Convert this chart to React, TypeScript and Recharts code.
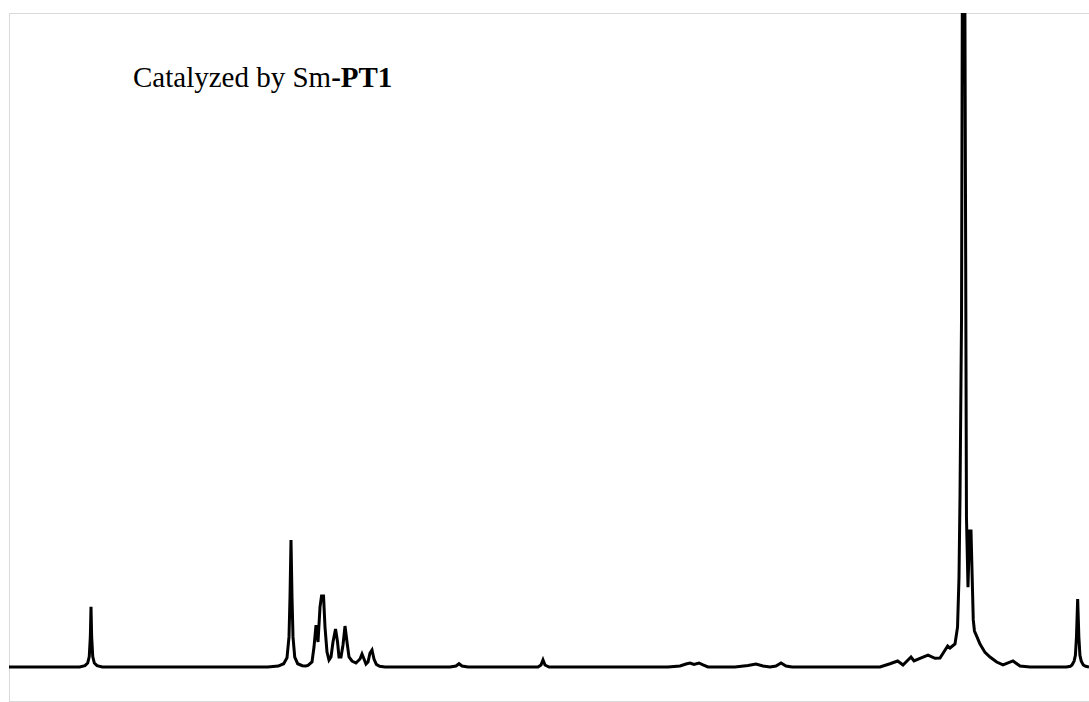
import { LineChart, Line, XAxis, YAxis } from 'recharts';

// 1H NMR trace, [shift (ppm), intensity (% of window)]
const AROMATIC: [number, number][] = [
  [8.0, 0], [7.47, 0], [7.43, 0.2], [7.41, 0.6], [7.398, 1.6], [7.39, 4.6],
  [7.385, 9.2], [7.38, 4.6], [7.372, 1.6], [7.36, 0.6], [7.34, 0.2], [7.3, 0],
];

const VINYL: [number, number][] = [
  [6.06, 0], [5.98, 0.15], [5.94, 0.5], [5.915, 1.4], [5.9, 4.6], [5.8925, 10.7],
  [5.885, 19.4], [5.8775, 10.7], [5.87, 4.6], [5.857, 1.5], [5.835, 0.5],
  [5.8, 0.2], [5.775, 0.15],
];

const MULTIPLET: [number, number][] = [
  [5.7575, 0.25], [5.7275, 0.76], [5.7125, 3.05], [5.6975, 6.41], [5.6825, 3.82],
  [5.6675, 9.16], [5.656, 10.84], [5.641, 10.84], [5.63, 6.1], [5.615, 2.29],
  [5.6, 1.07], [5.585, 1.53], [5.57, 3.82], [5.551, 5.8], [5.536, 3.82],
  [5.525, 1.53], [5.51, 1.53], [5.495, 3.36], [5.48, 6.26], [5.465, 3.82],
  [5.45, 1.53], [5.4275, 0.92], [5.3975, 0.61], [5.3675, 1.22], [5.3525, 1.98],
  [5.3375, 1.22], [5.3225, 0.46], [5.3075, 0.76], [5.2925, 2.14], [5.2775, 2.6],
  [5.2625, 1.22], [5.245, 0.4], [5.22, 0.12], [5.18, 0],
];

const SMALL_BUMPS: [number, number][] = [
  [4.6925, 0], [4.6475, 0.15], [4.625, 0.5], [4.6025, 0.15], [4.5575, 0],
  [4.0325, 0], [4.01, 0.31], [3.995, 1.1], [3.98, 0.31], [3.95, 0],
  [3.0575, 0], [2.9675, 0.15], [2.9225, 0.46], [2.8925, 0.61], [2.8625, 0.38],
  [2.825, 0.61], [2.795, 0.31], [2.7575, 0],
  [2.555, 0], [2.4575, 0.23], [2.3975, 0.46], [2.345, 0.15], [2.2925, 0],
  [2.2475, 0.15], [2.21, 0.61], [2.1725, 0.15], [2.1275, 0],
];

const ALIPHATIC: [number, number][] = [
  [1.4675, 0], [1.3925, 0.5], [1.335, 0.92], [1.295, 0.31], [1.235, 1.53],
  [1.2125, 0.92], [1.1675, 1.33], [1.1075, 1.83], [1.055, 1.33], [1.0175, 1.37],
  [0.96, 3.2], [0.9425, 2.9], [0.905, 3.51], [0.886, 6.1], [0.875, 13.7],
  [0.8675, 26], [0.856, 53.4], [0.843, 160], [0.8395, 160], [0.819, 22.9],
  [0.8075, 12.2], [0.796, 20.8], [0.785, 20.8], [0.768, 7.2], [0.759, 5.5],
  [0.7425, 4.73], [0.7175, 3.51], [0.68, 2.23], [0.6425, 1.53], [0.5925, 0.76],
  [0.545, 0.31], [0.47, 0.92], [0.4175, 0.15], [0.3425, 0],
];

const TMS: [number, number][] = [
  [0.07, 0], [0.04, 0.1], [0.0275, 0.31], [0.012, 0.9], [0.002, 1.8],
  [-0.006, 4.58], [-0.015, 10.4], [-0.024, 4.58], [-0.032, 1.8], [-0.042, 0.9],
  [-0.057, 0.31], [-0.075, 0.1], [-0.1, 0],
];

const data = [...AROMATIC, ...VINYL, ...MULTIPLET, ...SMALL_BUMPS, ...ALIPHATIC, ...TMS].map(
  ([x, y]) => ({ x, y }),
);

export default function App() {
  return (
    <div
      style={{
        position: 'fixed',
        left: 0,
        top: 0,
        width: 1089,
        height: 702,
        overflow: 'hidden',
        background: '#fff',
      }}
    >
      <div
        style={{
          position: 'absolute',
          left: 9,
          top: 13,
          width: 1090,
          height: 689,
          border: '1px solid #d9d9d9',
          boxSizing: 'border-box',
        }}
      />
      <div style={{ position: 'absolute', left: 9, top: 13 }}>
        <LineChart
          width={1080}
          height={688}
          data={data}
          margin={{ top: 0, right: 0, bottom: 0, left: 0 }}
        >
          <XAxis
            dataKey="x"
            type="number"
            domain={[-0.1, 8.0]}
            reversed
            hide
            allowDataOverflow
          />
          <YAxis type="number" domain={[-5.2, 100]} hide allowDataOverflow />
          <Line
            type="linear"
            dataKey="y"
            stroke="#000"
            strokeWidth={3}
            dot={false}
            activeDot={false}
            isAnimationActive={false}
          />
        </LineChart>
      </div>
      <svg
        width={1089}
        height={702}
        style={{ position: 'absolute', left: 0, top: 0, pointerEvents: 'none' }}
      >
        <text
          x={133}
          y={87}
          fontFamily="'Liberation Serif', 'Times New Roman', serif"
          fontSize={29}
          fill="#000"
        >
          Catalyzed by Sm<tspan fontWeight="bold">-PT1</tspan>
        </text>
      </svg>
    </div>
  );
}
